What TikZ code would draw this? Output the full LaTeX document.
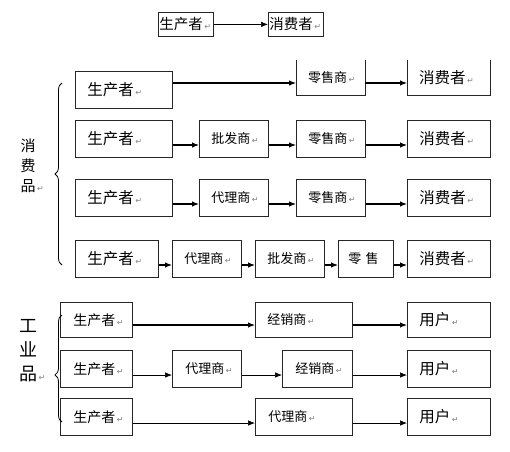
\documentclass[tikz,border=0pt]{standalone}
\usepackage{fontspec}
\setmainfont{Noto Sans CJK SC}
\newfontfamily\symfont{DejaVu Sans}
\usetikzlibrary{arrows.meta,decorations.pathreplacing}
\newcommand\retmark{\rlap{\hspace{1.5pt}\symfont\fontsize{8}{8}\selectfont\textcolor{black!50}{↵}}}
\newcommand\bigtxt{\fontsize{15.5}{16}\selectfont}
\newcommand\midtxt{\fontsize{13}{14}\selectfont}
\tikzset{
  box/.style={draw=black!85, line width=0.8pt, anchor=north west, inner xsep=12pt, inner ysep=0pt, align=left},
  openbox/.style={anchor=north west, inner xsep=12pt, inner ysep=0pt, align=left},
  arr/.style={-{Latex[length=7pt,width=5.5pt]}, line width=1.1pt},
  thinarr/.style={line width=0.7pt},
}
\begin{document}
\begin{tikzpicture}[x=1pt,y=-1pt]
	  \useasboundingbox (0,0) rectangle (510,451);
	  % top
	  \node[box, inner xsep=1pt, text width=53pt, minimum height=24pt, font=\fontsize{14.5}{15}\selectfont] (tp) at (158,12) {生产者\retmark};
	  \node[box, inner xsep=1pt, text width=53pt, minimum height=24pt, font=\fontsize{14.5}{15}\selectfont] (tc) at (268,12) {消费者\retmark};
	  \draw[arr, thinarr] (tp.east) -- (tc.west);
	  % consumer goods
	  \coordinate (r1) at (0,83);
	  \node[box, text width=73pt, minimum height=37pt, font=\bigtxt] (c1p) at (75,71) {生产者\retmark};
	  \node[openbox, text width=45pt, minimum height=35pt, font=\midtxt] (c1r) at (296,60) {零售商\retmark};
	  \node[openbox, text width=59pt, minimum height=35pt, font=\bigtxt] (c1c) at (407,60) {消费者\retmark};
	  \draw[draw=black!85, line width=0.8pt] (c1r.north west) -- (c1r.south west) -- (c1r.south east) -- (c1r.north east);
	  \draw[draw=black!85, line width=0.8pt] (c1c.north west) -- (c1c.south west) -- (c1c.south east) -- (c1c.north east);
	  \draw[arr] (c1p.east |- r1) -- (c1r.west |- r1);
	  \draw[arr] (c1r.east |- r1) -- (c1c.west |- r1);

	  \coordinate (r2) at (0,145);
	  \node[box, text width=73pt, minimum height=37pt, font=\bigtxt] (c2p) at (75,120) {生产者\retmark};
	  \node[box, text width=45pt, minimum height=37pt, font=\midtxt] (c2w) at (199,120) {批发商\retmark};
	  \node[box, text width=45pt, minimum height=37pt, font=\midtxt] (c2r) at (296,120) {零售商\retmark};
	  \node[box, text width=59pt, minimum height=37pt, font=\bigtxt] (c2c) at (407,120) {消费者\retmark};
	  \draw[arr] (c2p.east |- r2) -- (c2w.west |- r2);
	  \draw[arr] (c2w.east |- r2) -- (c2r.west |- r2);
	  \draw[arr] (c2r.east |- r2) -- (c2c.west |- r2);

	  \coordinate (r3) at (0,204);
	  \node[box, text width=73pt, minimum height=37pt, font=\bigtxt] (c3p) at (75,179) {生产者\retmark};
	  \node[box, text width=45pt, minimum height=37pt, font=\midtxt] (c3a) at (199,179) {代理商\retmark};
	  \node[box, text width=45pt, minimum height=37pt, font=\midtxt] (c3r) at (296,179) {零售商\retmark};
	  \node[box, text width=59pt, minimum height=37pt, font=\bigtxt] (c3c) at (407,179) {消费者\retmark};
	  \draw[arr] (c3p.east |- r3) -- (c3a.west |- r3);
	  \draw[arr] (c3a.east |- r3) -- (c3r.west |- r3);
	  \draw[arr] (c3r.east |- r3) -- (c3c.west |- r3);

	  \coordinate (r4) at (0,265);
	  \node[box, text width=59pt, minimum height=37pt, font=\bigtxt] (c4p) at (75,240) {生产者\retmark};
	  \node[box, text width=45pt, minimum height=37pt, font=\midtxt] (c4a) at (172,240) {代理商\retmark};
	  \node[box, text width=45pt, minimum height=37pt, font=\midtxt] (c4w) at (255,240) {批发商\retmark};
	  \node[box, inner xsep=10pt, text width=35pt, minimum height=37pt, font=\midtxt] (c4r) at (338,240) {零 售};
	  \node[box, text width=59pt, minimum height=37pt, font=\bigtxt] (c4c) at (407,240) {消费者\retmark};
	  \draw[arr] (c4p.east |- r4) -- (c4a.west |- r4);
	  \draw[arr] (c4a.east |- r4) -- (c4w.west |- r4);
	  \draw[arr] (c4w.east |- r4) -- (c4r.west |- r4);
	  \draw[arr] (c4r.east |- r4) -- (c4c.west |- r4);

	  \draw[line width=0.8pt, decorate, decoration={brace, amplitude=7pt}] (62,265) -- (62,83);
	  \node[align=center, font=\fontsize{15}{20}\selectfont] (cg) at (28,166) {消\\费\\品\retmark};

	  % industrial goods
	  \coordinate (ra) at (0,325);
	  \node[box, inner xsep=13pt, text width=46pt, minimum height=35pt, font=\fontsize{14}{15}\selectfont] (iap) at (60,302) {生产者\retmark};
	  \node[box, text width=73pt, minimum height=35pt, font=\midtxt] (iad) at (255,302) {经销商\retmark};
	  \node[box, text width=59pt, minimum height=35pt, font=\bigtxt] (iau) at (407,302) {用户\retmark};
	  \draw[arr] (iap.east |- ra) -- (iad.west |- ra);
	  \draw[arr] (iad.east |- ra) -- (iau.west |- ra);

	  \coordinate (rb) at (0,375);
	  \node[box, inner xsep=13pt, text width=46pt, minimum height=37pt, font=\fontsize{14}{15}\selectfont] (ibp) at (60,350) {生产者\retmark};
	  \node[box, inner xsep=13pt, text width=43pt, minimum height=37pt, font=\midtxt] (iba) at (172,350) {代理商\retmark};
	  \node[box, inner xsep=13pt, text width=44pt, minimum height=37pt, font=\midtxt] (ibd) at (282,350) {经销商\retmark};
	  \node[box, text width=59pt, minimum height=37pt, font=\bigtxt] (ibu) at (407,350) {用户\retmark};
	  \draw[arr, thinarr] (ibp.east |- rb) -- (iba.west |- rb);
	  \draw[arr, thinarr] (iba.east |- rb) -- (ibd.west |- rb);
	  \draw[arr, thinarr] (ibd.east |- rb) -- (ibu.west |- rb);

	  \coordinate (rc) at (0,423);
	  \node[box, inner xsep=13pt, text width=46pt, minimum height=37pt, font=\fontsize{14}{15}\selectfont] (icp) at (60,398) {生产者\retmark};
	  \node[box, inner xsep=13pt, text width=71pt, minimum height=37pt, font=\midtxt] (ica) at (255,398) {代理商\retmark};
	  \node[box, text width=59pt, minimum height=37pt, font=\bigtxt] (icu) at (407,398) {用户\retmark};
	  \draw[arr, thinarr] (icp.east |- rc) -- (ica.west |- rc);
	  \draw[arr, thinarr] (ica.east |- rc) -- (icu.west |- rc);

	  \draw[line width=0.8pt, decorate, decoration={brace, amplitude=7pt, aspect=0.44}] (62,422) -- (62,315);
	  \node[align=center, font=\fontsize{18}{24}\selectfont] (ig) at (28,351) {工\\业\\品\retmark};
	\end{tikzpicture}
\end{document}
